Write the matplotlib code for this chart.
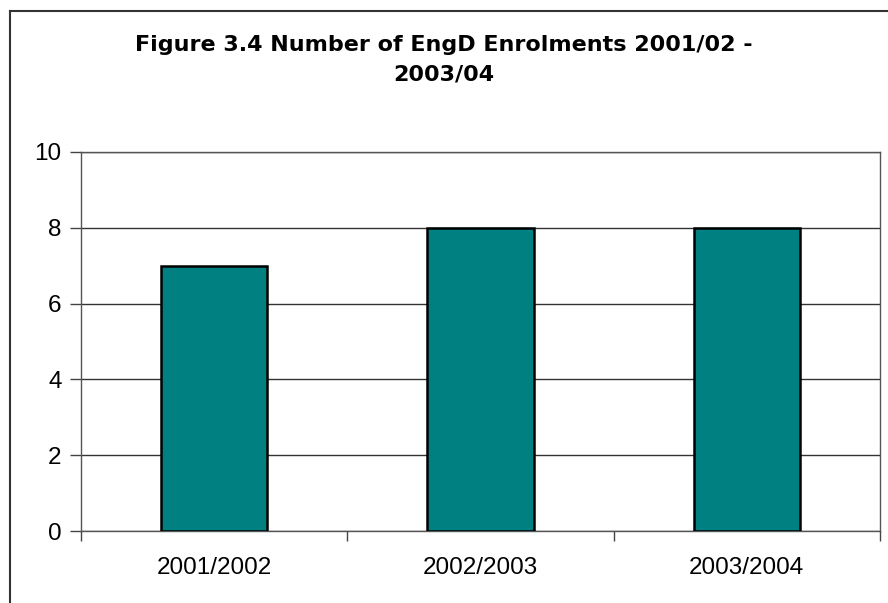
import matplotlib.pyplot as plt
import numpy as np
from matplotlib.lines import Line2D

years = ['2001/2002', '2002/2003', '2003/2004']
enrolments = [7, 8, 8]

fig = plt.figure(figsize=(8.88, 6.03), dpi=100)
ax = fig.add_axes([81 / 888, 1 - 531 / 603, (880 - 81) / 888, (531 - 152) / 603])

x = np.arange(len(years))
ax.bar(x, enrolments, width=0.4, color='#008080', edgecolor='black', linewidth=1.8, zorder=3)

ax.set_xlim(-0.5, len(years) - 0.5)
ax.set_ylim(0, 10)
ax.set_yticks(range(0, 11, 2))
ax.set_xticks(x)
ax.set_xticklabels(years)
ax.set_xticks(np.arange(-0.5, len(years)), minor=True)
ax.tick_params(axis='x', which='major', length=0, pad=19)
ax.tick_params(axis='x', which='minor', length=7, width=1, color='#444444')
ax.tick_params(axis='y', length=8, width=1, color='#444444', pad=6)
for lab in ax.get_xticklabels() + ax.get_yticklabels():
    lab.set_fontfamily('Liberation Sans')
    lab.set_fontsize(17.5)

ax.grid(axis='y', color='#333333', linewidth=1, zorder=0)
for s in ax.spines.values():
    s.set_color('#555555')
    s.set_linewidth(1)

fig.text(0.5, 1 - 35 / 603, 'Figure 3.4 Number of EngD Enrolments 2001/02 -\n2003/04',
         ha='center', va='top', fontsize=16, fontweight='bold', linespacing=1.6)

# chart border (only top and left edges fall inside the picture)
fig.add_artist(Line2D([10 / 888, 10 / 888], [0, 1 - 11 / 603], transform=fig.transFigure,
                      color='#333333', linewidth=1.5))
fig.add_artist(Line2D([10 / 888, 1], [1 - 11 / 603, 1 - 11 / 603], transform=fig.transFigure,
                      color='#333333', linewidth=1.5))

fig.savefig('out.png', dpi=100)
